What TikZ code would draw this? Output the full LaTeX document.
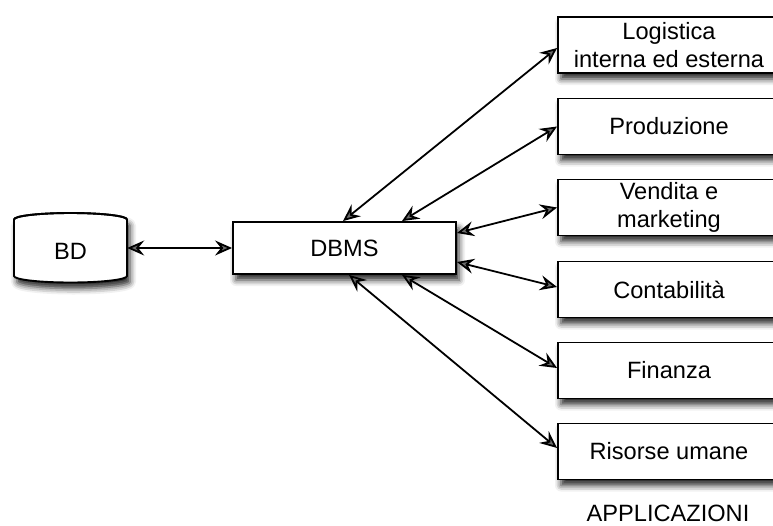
\documentclass[tikz,border=0pt]{standalone}
\usepackage{fontspec}
\setmainfont{Liberation Sans}
\usetikzlibrary{arrows.meta,shadows.blur,calc}
\begin{document}
\begin{tikzpicture}[x=1pt,y=-1pt,
  font=\fontsize{23.6}{28}\selectfont,
  shad/.style={blur shadow={shadow xshift=3pt,shadow yshift=-6pt,shadow blur radius=6pt,shadow opacity=85}},
  box/.style={draw=black,line width=1.9pt,fill=white,shad,align=center,inner sep=0pt},
  appbox/.style={box,minimum width=222pt,minimum height=56pt},
  conn/.style={line width=1.8pt,{Stealth[length=17pt,width=15pt,inset=6pt]}-{Stealth[length=17pt,width=15pt,inset=6pt]}}
]
\useasboundingbox (0,0) rectangle (773,525);
% cylinder BD
\path[draw=black,line width=1.9pt,fill=white,shad]
  (14,219.5) -- (14,276) arc[start angle=180,end angle=360,x radius=56.5pt,y radius=6.5pt]
  -- (127,219.5) arc[start angle=0,end angle=180,x radius=56.5pt,y radius=6.5pt] -- cycle;
\draw[line width=1.9pt] (14,219.5) arc[start angle=180,end angle=360,x radius=56.5pt,y radius=-6.5pt];
\node[minimum width=113pt,minimum height=56pt,inner sep=0pt] (bd) at (70.5,251) {BD};
\node[box,minimum width=223pt,minimum height=52pt] (dbms) at (344.5,248) {DBMS};
\node[appbox] (log) at (669,45) {Logistica\\interna ed esterna};
\node[appbox] (prod) at (669,126.5) {Produzione};
\node[appbox] (vend) at (669,207.5) {Vendita e\\marketing};
\node[appbox] (cont) at (669,289.5) {Contabilità};
\node[appbox] (fin) at (669,370.5) {Finanza};
\node[appbox] (ris) at (669,451.5) {Risorse umane};
\node[inner sep=0pt] (app) at (668,513) {APPLICAZIONI};
\draw[conn] (bd.east |- dbms.west) -- (dbms.west);
\draw[conn] ([xshift=-1.5pt]dbms.north) -- ([yshift=-3pt]log.west);
\draw[conn] ([xshift=57.5pt]dbms.north) -- (prod.west);
\draw[conn] ([yshift=15pt]dbms.east) -- (vend.west);
\draw[conn] ([yshift=-14pt]dbms.east) -- ([yshift=2.5pt]cont.west);
\draw[conn] ([xshift=57.5pt]dbms.south) -- ([yshift=2.5pt]fin.west);
\draw[conn] ([xshift=4.5pt]dbms.south) -- ([yshift=3.5pt]ris.west);
\end{tikzpicture}
\end{document}
